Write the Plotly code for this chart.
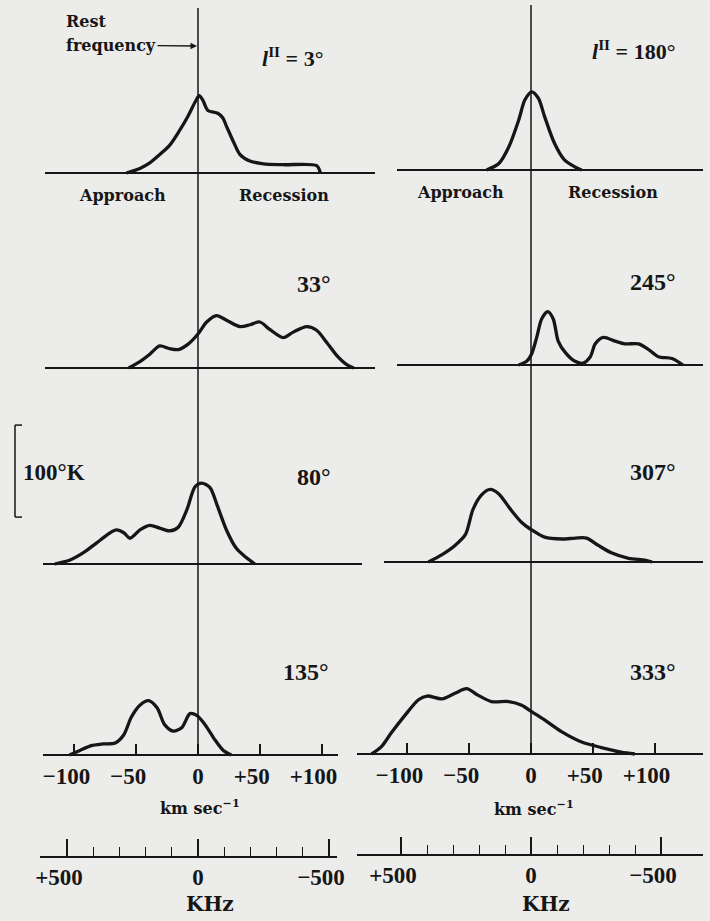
import plotly.graph_objects as go

# ---------------- data ----------------
# velocity (km/s) and brightness temperature (K) for each galactic longitude
v_l3 = [-58, -47, -39, -31, -23, -15, -8, -2, 1, 4, 8, 16, 20, 23, 29, 34, 42, 53, 69, 96, 99]
t_l3 = [0, 5, 11, 20, 30, 46, 62, 78, 84, 79, 68, 65, 60, 51, 33, 20, 13, 10, 9, 8, 0]

v_l180 = [-36, -26, -18, -10, -5, 0.5, 6, 11, 19, 27, 36, 41]
t_l180 = [0, 7, 25, 54, 76, 85, 78, 58, 29, 11, 3, 0]

v_l33 = [-56, -47, -39, -31, -23, -16, -8, 0, 7, 15, 23, 34, 42, 50, 58, 69, 77, 88, 96, 104, 112, 120, 126]
t_l33 = [0, 7, 15, 24, 21, 20, 26, 37, 50, 57, 52, 45, 47, 50, 42, 33, 39, 45, 41, 28, 14, 4, 0]

v_l245 = [-10, -3.5, 0.5, 4.6, 8.6, 13.5, 18, 22, 27.5, 35.6, 42, 48, 52, 58.5, 68, 76, 87, 95, 103, 114, 123]
t_l245 = [0, 4, 12, 30, 50, 58, 50, 26, 14, 4, 2, 9, 23, 30, 26, 23, 23, 17, 9, 7, 0]

v_l80 = [-116, -104, -93, -82, -71, -66, -60, -55, -47, -39, -31, -23, -16, -9, -2.4, 3, 9.7, 16, 23, 31, 39, 46]
t_l80 = [0, 4, 12, 23, 34, 37, 34, 28, 37, 42, 39, 36, 40, 59, 84, 88, 83, 62, 37, 17, 7, 0]

v_l307 = [-83, -72, -61.5, -53, -47, -40, -33, -26, -17, -7.5, 0.5, 11, 25, 36, 45, 54.5, 65, 79, 92, 98]
t_l307 = [0, 8, 18, 30, 57, 73, 79, 74, 58, 43, 35, 27, 25, 26, 26, 18, 10, 4, 2, 0]

v_l135 = [-104, -95.5, -87, -77, -67, -60, -54, -47, -40, -33, -27, -20, -13, -6.5, -1, 5.7, 14, 20.5, 27]
t_l135 = [0, 5, 10, 12, 13, 22, 41, 54, 59, 51, 33, 26, 30, 45, 43, 33, 16, 5, 0]

v_l333 = [-129, -121, -113, -102, -91, -84, -72, -61.5, -52, -43, -32, -18, -7.5, 0.5, 11, 25, 41, 57, 73, 84]
t_l333 = [0, 8, 23, 42, 59, 63, 60, 66, 71, 64, 57, 57, 53, 46, 37, 24, 13, 7, 2, 0]

panel_labels = ["<i>l</i><sup>II</sup> = 3°", "<i>l</i><sup>II</sup> = 180°",
                "33°", "245°", "80°", "307°", "135°", "333°"]

vel_ticks = [-100, -50, 0, 50, 100]
vel_ticktext = ["−100", "−50", "0", "+50", "+100"]
freq_major = [500, 0, -500]
freq_major_text = ["+500", "0", "−500"]
freq_minor = [400, 300, 200, 100, -100, -200, -300, -400]

# ---------------- geometry ----------------
W, H = 710, 921
PX_KMS = 1.236      # pixels per km/s
PX_K = 0.92         # pixels per kelvin
CENTERS = [198, 531]
INK = "#161616"
BG = "#ececea"
WORD_FONT = "DejaVu Serif"
NUM_FONT = "Liberation Serif"
PAD = "\u2002\u2009"   # keeps the digits (not the sign) centred on the tick

panels = [
    dict(v=v_l3, t=t_l3, col=0, base=173, ext=(45, 375)),
    dict(v=v_l180, t=t_l180, col=1, base=170, ext=(397, 703)),
    dict(v=v_l33, t=t_l33, col=0, base=368, ext=(45, 375)),
    dict(v=v_l245, t=t_l245, col=1, base=365, ext=(397, 703)),
    dict(v=v_l80, t=t_l80, col=0, base=564, ext=(43, 362)),
    dict(v=v_l307, t=t_l307, col=1, base=562, ext=(384, 703)),
    dict(v=v_l135, t=t_l135, col=0, base=755, ext=(43, 338)),
    dict(v=v_l333, t=t_l333, col=1, base=754, ext=(357, 703)),
]


def px(x, y):
    return x / W, 1 - y / H


fig = go.Figure()
layout_axes = {}

for k, p in enumerate(panels, start=1):
    c = CENTERS[p["col"]]
    x0, x1 = p["ext"]
    base = p["base"]
    bottom = k >= 7
    fig.add_trace(go.Scatter(
        x=p["v"], y=p["t"], mode="lines", line=dict(color=INK, width=3.3, shape="spline", smoothing=0.8),
        xaxis=f"x{k}", yaxis=f"y{k}", showlegend=False, hoverinfo="skip"))
    xa = dict(domain=[x0 / W, x1 / W], range=[(x0 - c) / PX_KMS, (x1 - c) / PX_KMS],
              anchor="free", position=(H - base) / H, showline=True, linecolor=INK, linewidth=2,
              showgrid=False, zeroline=False, fixedrange=True, automargin=False)
    if bottom:
        xa.update(tickmode="array", tickvals=vel_ticks,
                  ticktext=[t + (PAD if t[0] in "+−" else "") for t in vel_ticktext],
                  ticks="inside", ticklen=10, tickwidth=1.5, tickcolor=INK, tickangle=0,
                  tickfont=dict(family=NUM_FONT, size=23, color=INK, weight="bold"),
                  ticklabelstandoff=0)
    else:
        xa.update(showticklabels=False, ticks="")
    ya = dict(domain=[(H - base - 25) / H, (H - base + 110) / H],
              range=[-25 / PX_K, 110 / PX_K], visible=False, anchor=f"x{k}", fixedrange=True,
              automargin=False)
    layout_axes[f"xaxis{k}"] = xa
    layout_axes[f"yaxis{k}"] = ya

# frequency axes (kHz offset from rest frequency)
freq_axes = [
    dict(k=9, c=198, ext=(40, 337), y=857, scale=0.262),
    dict(k=10, c=531, ext=(357, 703), y=855, scale=0.260),
]
for f in freq_axes:
    k = f["k"]
    x0, x1 = f["ext"]
    fig.add_trace(go.Scatter(x=[0], y=[0], mode="markers", marker=dict(opacity=0), xaxis=f"x{k}", yaxis=f"y{k}",
                             showlegend=False, hoverinfo="skip"))
    layout_axes[f"xaxis{k}"] = dict(
        domain=[x0 / W, x1 / W], range=[(f["c"] - x0) / f["scale"], (f["c"] - x1) / f["scale"]],
        anchor="free", position=(H - f["y"]) / H, showline=True, linecolor=INK, linewidth=1.5,
        showgrid=False, zeroline=False, tickmode="array", tickvals=freq_major,
        ticktext=[t + (PAD if t[0] in "+−" else "") for t in freq_major_text],
        ticks="inside", ticklen=17, tickwidth=1.5, tickcolor=INK, tickangle=0, automargin=False,
        minor=dict(tickvals=freq_minor, ticks="inside", ticklen=9, tickwidth=1.3, tickcolor=INK, showgrid=False),
        tickfont=dict(family=NUM_FONT, size=23, color=INK, weight="bold"), ticklabelstandoff=0)
    layout_axes[f"yaxis{k}"] = dict(domain=[0, 0.05], range=[-1, 1], visible=False, anchor=f"x{k}",
                                    automargin=False)

shapes = []
# rest-frequency vertical lines
for c, top in zip(CENTERS, [8, 5]):
    xp, y0 = px(c, 755)
    _, y1 = px(c, top)
    shapes.append(dict(type="line", xref="paper", yref="paper", x0=xp, x1=xp, y0=y0, y1=y1,
                       line=dict(color=INK, width=1.5)))
# 100 K scale bracket
bx = 15
top_y = 564 - 151 * PX_K
bot_y = 564 - 51 * PX_K
for (xa_, ya_, xb_, yb_) in [(bx, top_y, bx, bot_y), (bx, top_y, bx + 7, top_y), (bx, bot_y, bx + 7, bot_y)]:
    a = px(xa_, ya_)
    b = px(xb_, yb_)
    shapes.append(dict(type="line", xref="paper", yref="paper", x0=a[0], y0=a[1], x1=b[0], y1=b[1],
                       line=dict(color=INK, width=1.5)))

ann = []


def text(s, x, y, anchor="center", size=16, family=WORD_FONT):
    xp, yp = px(x, y)
    ann.append(dict(text=s, x=xp, y=yp, xref="paper", yref="paper", xanchor=anchor, yanchor="middle",
                    showarrow=False, font=dict(family=family, size=size, color=INK, weight="bold")))


text("Rest", 64, 21, "left", 16)
# "frequency" with its arrow pointing at the rest-frequency line
hx, hy = px(197, 46)
ann.append(dict(text="frequency", x=hx, y=hy, xref="paper", yref="paper", ax=-86, ay=-1, showarrow=True,
                arrowhead=2, arrowsize=1, arrowwidth=1.3, arrowcolor=INK, standoff=0,
                font=dict(family=WORD_FONT, size=16, color=INK, weight="bold")))

text(panel_labels[0], 260, 57, "left", 22, NUM_FONT)
text(panel_labels[1], 590, 50, "left", 22, NUM_FONT)
text("Approach", 122, 196)
text("Recession", 284, 196)
text("Approach", 460, 193)
text("Recession", 613, 193)
text(panel_labels[2], 333, 284, "right", 24, NUM_FONT)
text(panel_labels[3], 678, 282, "right", 24, NUM_FONT)
text(panel_labels[4], 333, 477, "right", 24, NUM_FONT)
text(panel_labels[5], 678, 472, "right", 24, NUM_FONT)
text(panel_labels[6], 331, 672, "right", 24, NUM_FONT)
text(panel_labels[7], 678, 672, "right", 24, NUM_FONT)
text("100°K", 21, 472, "left", 23, NUM_FONT)
text("km sec<sup>−1</sup>", 200, 807)
text("km sec<sup>−1</sup>", 534, 808)
text("KHz", 210, 904, "center", 20)
text("KHz", 546, 904, "center", 20)

fig.update_layout(template="none", width=W, height=H, autosize=False,
                  margin=dict(l=0, r=0, t=0, b=0, pad=0, autoexpand=False),
                  paper_bgcolor=BG, plot_bgcolor="rgba(0,0,0,0)",
                  shapes=shapes, annotations=ann, showlegend=False, **layout_axes)

fig.write_html("out.html", config={"responsive": False, "displayModeBar": False},
               post_script="document.body.style.margin='0';document.body.style.padding='0';"
                           "document.body.style.overflow='hidden';")
